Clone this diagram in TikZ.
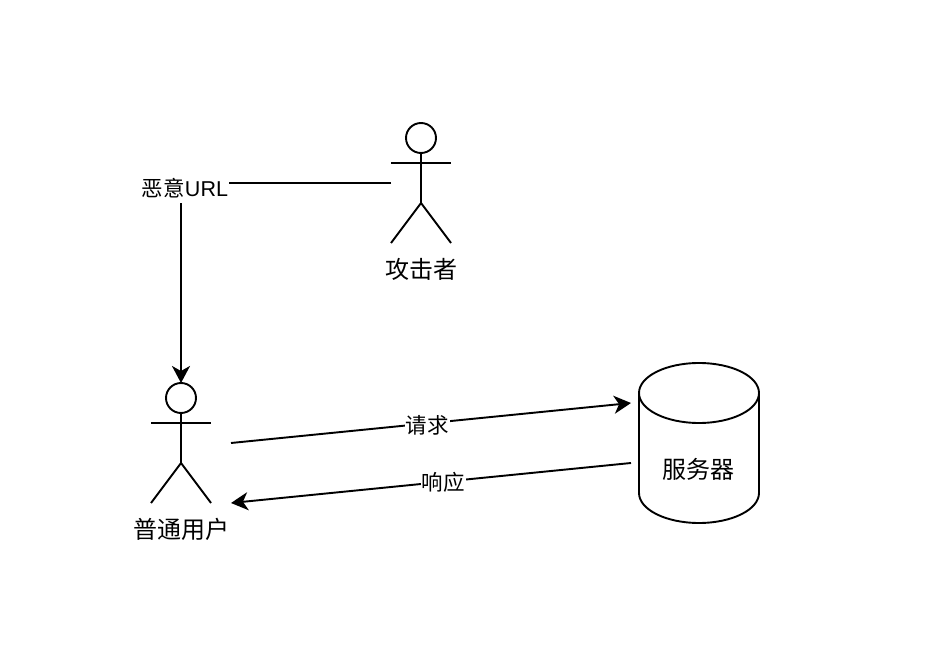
\documentclass[tikz,border=0pt]{standalone}
\usepackage{fontspec}
\setmainfont{Liberation Sans}
\newfontfamily\cjk{Noto Sans CJK SC}
\usetikzlibrary{positioning, arrows.meta}
\tikzset{
  arrow/.style={line width=1.9pt,-{Stealth[length=17pt,width=18pt,inset=5pt]}},
  plain/.style={line width=1.9pt},
  actorlabel/.style={inner sep=0pt, font=\fontsize{24}{28}\selectfont\cjk},
  edgelabel/.style={fill=white, inner sep=1pt, font=\fontsize{21.5}{25}\selectfont\cjk},
  pics/actor/.style={code={
    \draw [plain] (0,-45) circle (15);
    \draw [plain] (0,-30) -- (0,20);
    \draw [plain] (-30,-20) -- (30,-20);
    \draw [plain] (-30,60) -- (0,20) -- (30,60);
    \coordinate (-top) at (0,-60);
    \coordinate (-bottom) at (0,60);
    \coordinate (-west) at (-30,-20);
    \coordinate (-upper) at (50,0);
    \coordinate (-lower) at (50,60);
  }}
}
\begin{document}
\begin{tikzpicture}[x=1pt, y=-1pt]
  \useasboundingbox (0,0) rectangle (930,668);

  % Actors
  \pic (attacker) at (421,183) {actor};
  \pic (user) at (181,443) {actor};
  \node (attackerlabel) [actorlabel, below=15pt of attacker-bottom] {攻击者};
  \node (userlabel) [actorlabel, below=15.5pt of user-bottom] {普通用户};

  % Server
  \draw [plain] (699,393) ellipse [x radius=60, y radius=30];
  \draw [plain] (639,393) -- (639,493) arc [start angle=180, end angle=0, x radius=60, y radius=30]
    -- (759,393);
  \node (server) at (698,469) [actorlabel] {服务器};
  \coordinate (serverin) at (631,403);
  \coordinate (serverout) at (631,463);

  % Connectors
  \draw [arrow] (attacker-west |- 0,183) -| node (url) [edgelabel, pos=0.5, xshift=4pt, yshift=-5pt, minimum width=88pt, minimum height=30pt] {恶意{\fontspec{Liberation Sans}URL}} (user-top);
  \draw [arrow] (user-upper) -- node (request) [edgelabel, pos=0.49, yshift=-1.5pt] {请求} (serverin);
  \draw [arrow] (serverout) -- node (response) [edgelabel, pos=0.47, yshift=-1pt] {响应} (user-lower);
\end{tikzpicture}
\end{document}
